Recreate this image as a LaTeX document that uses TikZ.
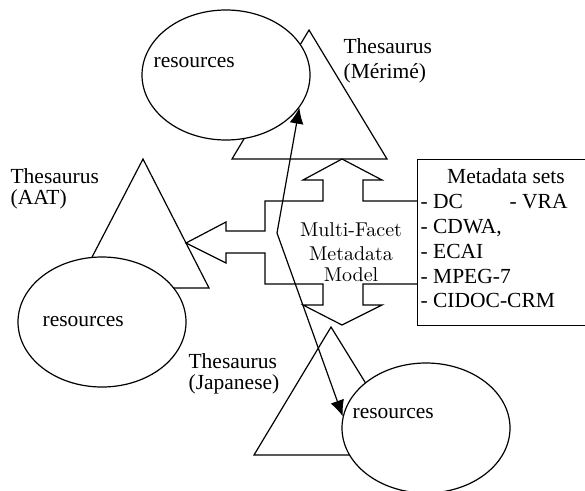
\documentclass[tikz,border=0pt]{standalone}
\usepackage{fontspec}
\newfontfamily\tms{Liberation Serif}
\newfontfamily\lmten{lmroman10-regular.otf}
\usetikzlibrary{shapes.geometric,arrows.meta}
\tikzset{
  thes/.style={draw, fill=white, line join=miter},
  res/.style={ellipse, draw, fill=white, minimum width=168pt, minimum height=130pt, inner sep=0pt},
  lbl/.style={font=\tms\fontsize{21.5}{25}\selectfont, inner sep=0pt, anchor=base west},
  mfl/.style={font=\lmten\fontsize{20}{23}\selectfont, inner sep=0pt, anchor=base},
  link/.style={{Latex[length=16pt,width=14pt]}-{Latex[length=16pt,width=14pt]}, line join=miter}
}
\begin{document}
\begin{tikzpicture}[x=1pt,y=-1pt,line width=1.2pt]
\useasboundingbox (0,0) rectangle (585,490);
% thesaurus triangles
\draw[thes] (309,30) -- (232,159) -- (387,159) -- cycle;
\draw[thes] (143,159) -- (76,288) -- (209,288) -- cycle;
\draw[thes] (331,327) -- (254,455) -- (410,455) -- cycle;
% resources ellipses
\node[res] (r1) at (226,75) {};
\node[res] (r2) at (102,322) {};
\node[res] (r3) at (426,428) {};
% metadata box
\node[draw, minimum width=175pt, minimum height=166pt, anchor=north west, inner sep=0pt] (meta) at (417,159) {};
% multi-facet shape
\draw[line join=miter] (417,201) -- (363,201) -- (363,180) -- (382,180) -- (342,159) -- (303,180) -- (323,180) -- (323,201)
  -- (265,201) -- (265,231) -- (226,231) -- (226,222) -- (186,243) -- (226,263) -- (226,253) -- (265,253)
  -- (265,284) -- (323,284) -- (323,305) -- (303,305) -- (342,325) -- (382,305) -- (363,305) -- (363,284) -- (417,284);
% labels
\node[lbl] (t1a) at (343,53) {Thesaurus};
\node[lbl] (t1b) at (343,78) {(Mérimé)};
\node[lbl] (t2a) at (10,183) {Thesaurus};
\node[lbl] (t2b) at (10,204) {(AAT)};
\node[lbl] (t3a) at (188,368) {Thesaurus};
\node[lbl] (t3b) at (188,389) {(Japanese)};
\node[lbl] (rt1) at (153,67) {resources};
\node[lbl] (rt2) at (42,326) {resources};
\node[lbl] (rt3) at (352,418) {resources};
\node[lbl, anchor=base] (m0) at (506,183) {Metadata sets};
\node[lbl] (m1) at (420,208) {- DC};
\node[lbl] (m1b) at (509,208) {- VRA};
\node[lbl] (m2) at (420,233) {- CDWA,};
\node[lbl] (m3) at (420,258) {- ECAI};
\node[lbl] (m4) at (420,283) {- MPEG-7};
\node[lbl] (m5) at (420,307) {- CIDOC-CRM};
\node[mfl] (mf1) at (351,236) {Multi-Facet};
\node[mfl] (mf2) at (351,260) {Metadata};
\node[mfl] (mf3) at (351,281) {Model};
% link between resources
\coordinate (kink) at (277,233);
\draw[link] (r1.-24.6) -- (kink) -- (r3.172.5);
\end{tikzpicture}
\end{document}
